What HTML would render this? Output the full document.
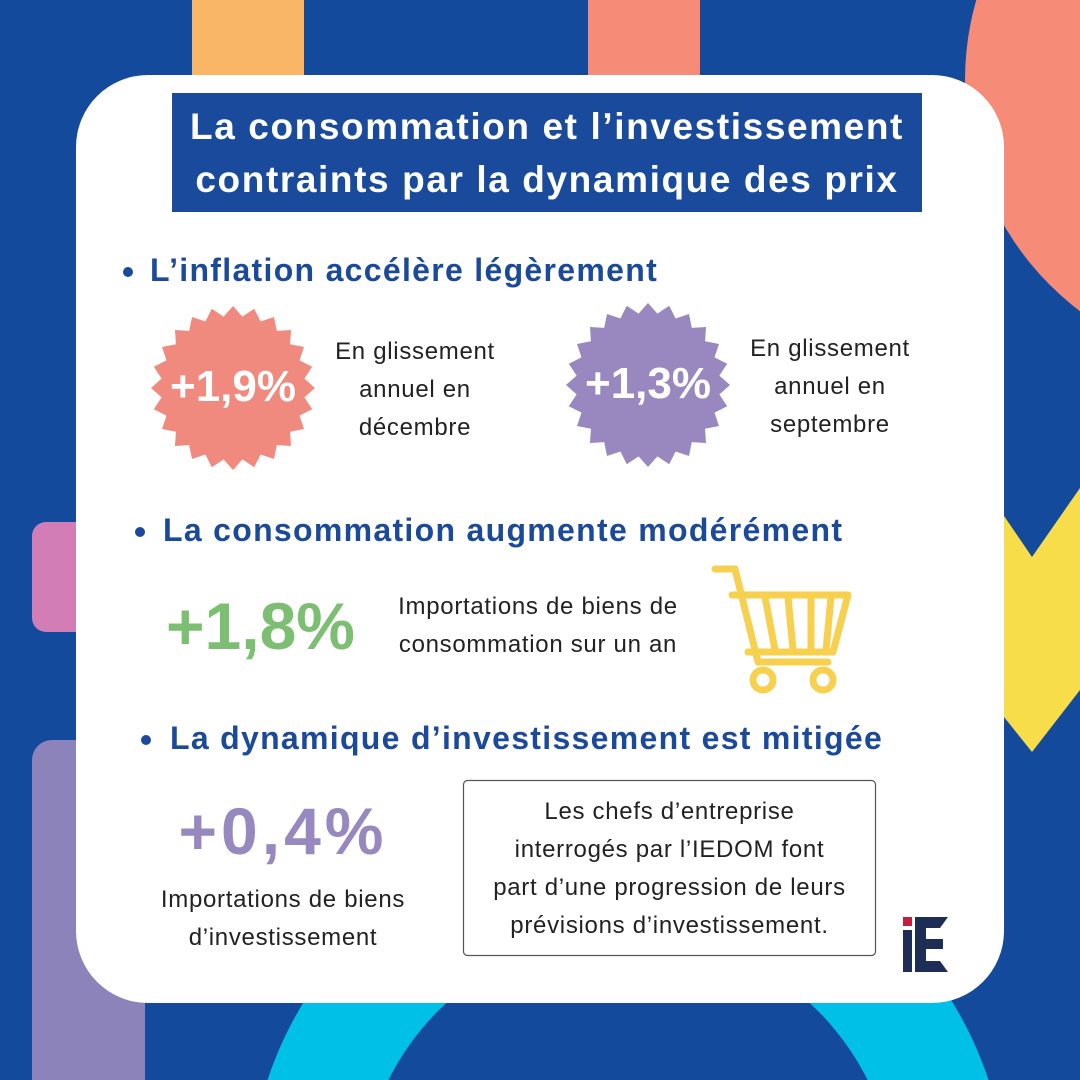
<!DOCTYPE html>
<html><head><meta charset="utf-8"><style>
html,body{margin:0;width:1080px;height:1080px;overflow:hidden;}
body{background:#134a9c;font-family:"Liberation Sans",sans-serif;position:relative}
.abs{position:absolute}
.t{position:absolute;white-space:nowrap}
.h{color:#1b4a9b;font-weight:bold;font-size:32px;letter-spacing:1.3px}
.p{color:#222;font-size:24px;letter-spacing:0.7px;text-align:center;line-height:38px}
</style></head><body>
<svg class="abs" style="left:0;top:0" width="1080" height="1080">
<rect x="192" y="0" width="112" height="90" fill="#f9b666"/>
<rect x="588" y="0" width="112" height="90" fill="#f68b77"/>
<circle cx="1255" cy="80" r="290" fill="#f68b77"/>
<polygon points="1000,510 1032,557 1080,488 1080,690 1032,752 1000,712" fill="#f8dd4b"/>
<rect x="32" y="522" width="80" height="110" rx="14" fill="#d37db6"/>
<path d="M32,1080 V760 a20,20 0 0 1 20,-20 H145 V1080 Z" fill="#8d83bb"/>
<circle cx="628" cy="1200" r="380" fill="#00c0e8"/>
<circle cx="628" cy="1200" r="268" fill="#134a9c"/>
<rect x="76" y="75" width="928" height="928" rx="72" fill="#fff"/>
<rect x="172" y="93" width="750" height="119" fill="#1a4a9c"/>
<polygon id="s1" fill="#f08a7e"/>
<polygon id="s2" fill="#9987bf"/>
<circle cx="128" cy="272" r="5" fill="#1b4a9b"/>
<circle cx="140" cy="532" r="5" fill="#1b4a9b"/>
<circle cx="146" cy="740" r="5" fill="#1b4a9b"/>
<g fill="none" stroke="#f7d04f" stroke-width="7" stroke-linejoin="round" stroke-linecap="round">
<path d="M715,569 H735 L758,662 H828"/>
<path d="M732,595 H848 L833,652 H748"/>
<line x1="765" y1="597" x2="775" y2="650"/>
<line x1="788" y1="597" x2="793" y2="650"/>
<line x1="811" y1="597" x2="811" y2="650"/>
<line x1="831" y1="597" x2="826" y2="650"/>
<circle cx="763" cy="680" r="10"/>
<circle cx="823" cy="680" r="10"/>
</g>
<rect x="463.5" y="780.5" width="412" height="175" rx="4" fill="none" stroke="#555" stroke-width="1.2"/>
<rect x="903" y="917" width="9" height="9" fill="#c0203c"/>
<rect x="903" y="930" width="9" height="42" fill="#1e2d55"/>
<polygon points="915,917 948,917 940,928 926,928 926,939 943,939 943,949 926,949 926,961 940,961 948,972 915,972" fill="#1e2d55"/>
</svg>
<div class="t" style="left:172px;width:750px;top:100px;text-align:center;color:#fff;font-weight:bold;font-size:37px;letter-spacing:1.6px;line-height:53px">La consommation et l’investissement<br>contraints par la dynamique des prix</div>
<div class="t h" style="left:150px;top:252px">L’inflation accélère légèrement</div>
<div class="t h" style="left:163px;top:512px">La consommation augmente modérément</div>
<div class="t h" style="left:170px;top:720px">La dynamique d’investissement est mitigée</div>
<div class="t" style="left:133px;width:200px;top:362px;text-align:center;color:#fff;font-weight:bold;font-size:44px">+1,9%</div>
<div class="t" style="left:548px;width:200px;top:359px;text-align:center;color:#fff;font-weight:bold;font-size:44px">+1,3%</div>
<div class="t p" style="left:315px;width:200px;top:333px">En glissement<br>annuel en<br>décembre</div>
<div class="t p" style="left:730px;width:200px;top:330px">En glissement<br>annuel en<br>septembre</div>
<div class="t" style="left:166px;top:588px;color:#7dbf72;font-weight:bold;font-size:66px">+1,8%</div>
<div class="t p" style="left:378px;width:320px;top:588px">Importations de biens de<br>consommation sur un an</div>
<div class="t" style="left:133px;width:300px;top:793px;text-align:center;color:#9788c0;font-weight:bold;font-size:66px;letter-spacing:4px">+0,4%</div>
<div class="t p" style="left:133px;width:300px;top:881px">Importations de biens<br>d’investissement</div>
<div class="t p" style="left:463px;width:413px;top:793px">Les chefs d’entreprise<br>interrogés par l’IEDOM font<br>part d’une progression de leurs<br>prévisions d’investissement.</div>
<script>
function star(id,cx,cy,R,r,n){var p=[];for(var i=0;i<2*n;i++){var a=Math.PI*i/n-Math.PI/2,rr=i%2?r:R;p.push((cx+rr*Math.cos(a)).toFixed(1)+','+(cy+rr*Math.sin(a)).toFixed(1));}document.getElementById(id).setAttribute('points',p.join(' '));}
star('s1',233,388,82,72,24);star('s2',648,385,82,72,24);
</script>
</body></html>
